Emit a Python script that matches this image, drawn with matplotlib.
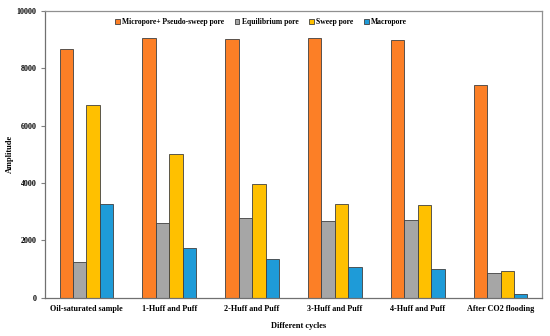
import numpy as np
import matplotlib.pyplot as plt

plt.rcParams['font.family'] = ['Liberation Serif', 'DejaVu Serif']
plt.rcParams['font.weight'] = 'bold'

cycles = ['Oil-saturated sample', '1-Huff and Puff', '2-Huff and Puff',
          '3-Huff and Puff', '4-Huff and Puff', 'After CO2 flooding']
micro = [8670, 9060, 9035, 9060, 8980, 7430]
equil = [1235, 2595, 2790, 2675, 2710, 860]
sweep = [6710, 5025, 3955, 3280, 3245, 940]
macro = [3270, 1735, 1350, 1080, 1000, 140]

names = ['Micropore+ Pseudo-sweep pore', 'Equilibrium pore', 'Sweep pore', 'Macropore']
colors = ['#FC7F26', '#A6A6A6', '#FFC000', '#1E9BD8']
series = [micro, equil, sweep, macro]

fig = plt.figure(figsize=(5.5, 3.36), dpi=100)
ax = fig.add_axes([45/550, 1 - 297.7/336, 497/550, 286.7/336])

x = np.arange(len(cycles))
w = 0.162
for i, (vals, nm, col) in enumerate(zip(series, names, colors)):
    ax.bar(x + (i - 1.5) * w, vals, w, color=col, edgecolor='#404040',
           linewidth=0.6, label=nm)

ax.set_xlim(-0.5, len(cycles) - 0.5)
ax.set_ylim(0, 10000)
ax.set_yticks([0, 2000, 4000, 6000, 8000, 10000])
ax.set_xticks(x)
ax.set_xticklabels(cycles, fontsize=5.9, fontweight='bold')
ax.tick_params(axis='x', length=0, pad=5)
ax.tick_params(axis='y', labelsize=5.8, length=3, width=0.8, color='#808080', pad=3)
for s in ax.spines.values():
    s.set_color('#909090')
    s.set_linewidth(0.9)
ax.spines['bottom'].set_color('#707070')
ax.spines['left'].set_color('#707070')

ax.set_ylabel('Amplitude', fontsize=6, fontweight='bold')
ax.yaxis.set_label_coords(-0.062, 0.5)
ax.set_xlabel('Different cycles', fontsize=6, fontweight='bold')
ax.xaxis.set_label_coords(0.51, -0.085)

ax.legend(loc='upper left', bbox_to_anchor=(0.135, 0.985), ncol=4, frameon=False,
          fontsize=5.5, handlelength=0.6, handleheight=0.6, handletextpad=0.3,
          columnspacing=1.4, borderaxespad=0)

fig.savefig('out.png', dpi=100)
